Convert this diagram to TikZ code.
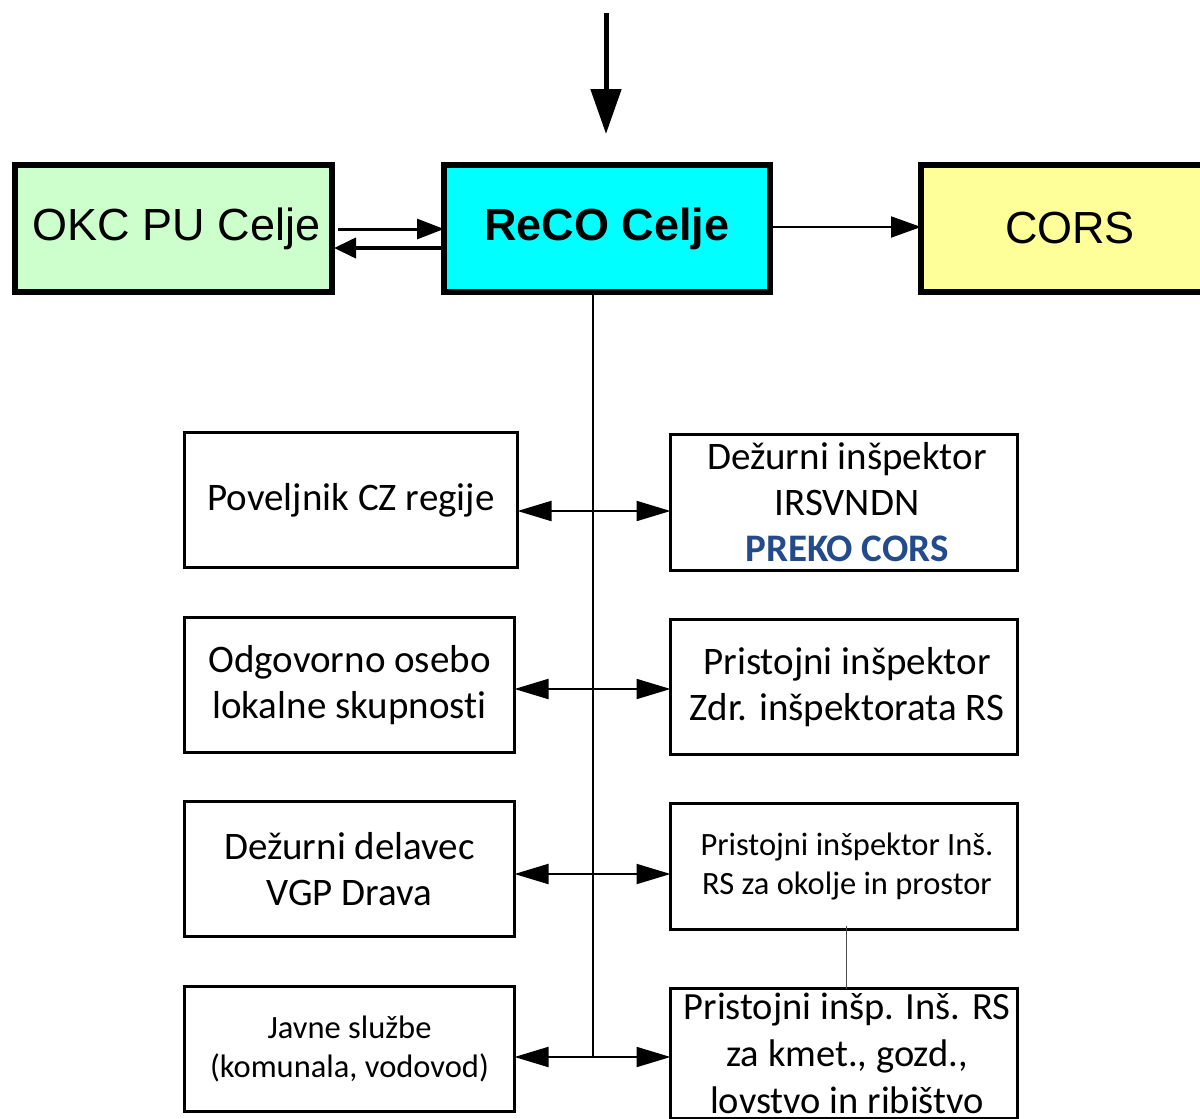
\documentclass[tikz,border=0pt]{standalone}
\usepackage{fontspec}
\setmainfont{Carlito}[Ligatures={NoCommon}]
\newfontfamily\arialf{Liberation Sans}
\usetikzlibrary{arrows.meta}
\definecolor{okcfill}{HTML}{CCFFCC}
\definecolor{recofill}{HTML}{00FFFF}
\definecolor{corsfill}{HTML}{FFFF99}
\definecolor{prekoblue}{RGB}{35,75,140}
\tikzset{
  topbox/.style={draw=black, line width=6pt, inner sep=0pt, outer sep=0pt, align=center,
    font=\arialf\fontsize{45}{54}\selectfont},
  lowbox/.style={draw=black, line width=3pt, inner sep=0pt, outer sep=0pt, align=center,
    font=\fontsize{39}{46}\selectfont},
  smallbox/.style={lowbox, font=\fontsize{32.5}{39}\selectfont},
  dblarrow/.style={line width=2pt, {Triangle[length=34pt,width=20pt]}-{Triangle[length=34pt,width=20pt]}},
  trunkline/.style={line width=2pt},
}
\begin{document}
\begin{tikzpicture}[x=1pt,y=-1pt]
\useasboundingbox (0,0) rectangle (1200,1119);
% top boxes
\node[topbox, fill=okcfill, minimum width=317pt, minimum height=127pt] (okc) at (173.5,228.5) {\hspace*{6pt}OKC PU Celje};
\node[topbox, fill=recofill, minimum width=326pt, minimum height=127pt, font=\arialf\bfseries\fontsize{45}{54}\selectfont] (reco) at (607,228.5) {ReCO Celje};
\node[topbox, fill=corsfill, minimum width=298pt, minimum height=127pt] (cors) at (1070,228.5) {CORS};
% incoming arrow
\coordinate (in) at (606,13);
\draw[line width=5pt, -{Triangle[length=45pt,width=30pt]}] (in) -- ([yshift=31pt]reco.north -| in);
% OKC <-> ReCO
\coordinate (u) at (338,229);
\coordinate (d) at (0,248);
\draw[line width=3pt, -{Triangle[length=27pt,width=20pt]}] (u) -- (reco.west |- u);
\draw[line width=4pt, -{Triangle[length=22pt,width=20pt]}] (reco.west |- d) -- ([xshift=2pt]okc.east |- d);
% ReCO -> CORS
\coordinate (c) at (0,227);
\draw[line width=2pt, -{Triangle[length=30pt,width=21pt]}] (reco.east |- c) -- (cors.west |- c);
% lower boxes
\node[lowbox, minimum width=333pt, minimum height=135pt] (l1) at (351,500) {Poveljnik CZ regije};
\node[lowbox, minimum width=330pt, minimum height=135pt] (l2) at (349.5,685) {Odgovorno osebo\\lokalne skupnosti};
\node[lowbox, minimum width=330pt, minimum height=135pt] (l3) at (349.5,869) {Dežurni delavec\\VGP Drava};
\node[smallbox, minimum width=330pt, minimum height=125pt] (l4) at (349.5,1049) {Javne službe\\(komunala, vodovod)};
\node[lowbox, minimum width=347pt, minimum height=136pt] (r1) at (844,502.5) {\hspace*{6pt}Dežurni inšpektor\\\hspace*{6pt}IRSVNDN\\\hspace*{6pt}{\bfseries\color{prekoblue}PREKO CORS}};
\node[lowbox, minimum width=347pt, minimum height=135pt] (r2) at (844,687) {\hspace*{6pt}Pristojni inšpektor\\\hspace*{6pt}Zdr. inšpektorata RS};
\node[smallbox, minimum width=347pt, minimum height=126pt] (r3) at (844,866.5) {\hspace*{6pt}Pristojni inšpektor Inš.\\\hspace*{6pt}RS za okolje in prostor};
\node[lowbox, minimum width=347pt, minimum height=130pt, font=\fontsize{38.5}{47}\selectfont] (r4) at (844,1053.5) {\hspace*{6pt}Pristojni inšp. Inš. RS\\\hspace*{6pt}za kmet., gozd.,\\\hspace*{6pt}lovstvo in ribištvo};
% trunk
\coordinate (t4) at (593,1057);
\coordinate (t1) at (593,511);
\coordinate (t2) at (593,689);
\coordinate (t3) at (593,874);
\draw[trunkline] (reco.south -| t4) -- (t4);
\draw[dblarrow] (l1.east |- t1) -- (r1.west |- t1);
\draw[dblarrow] (l2.east |- t2) -- (r2.west |- t2);
\draw[dblarrow] (l3.east |- t3) -- (r3.west |- t3);
\draw[dblarrow] (l4.east |- t4) -- (r4.west |- t4);
% thin link between r3 and r4
\coordinate (k) at (846,0);
\draw[line width=1pt, black!70] ([yshift=4pt]r3.south -| k) -- (r4.north -| k);
\end{tikzpicture}
\end{document}
